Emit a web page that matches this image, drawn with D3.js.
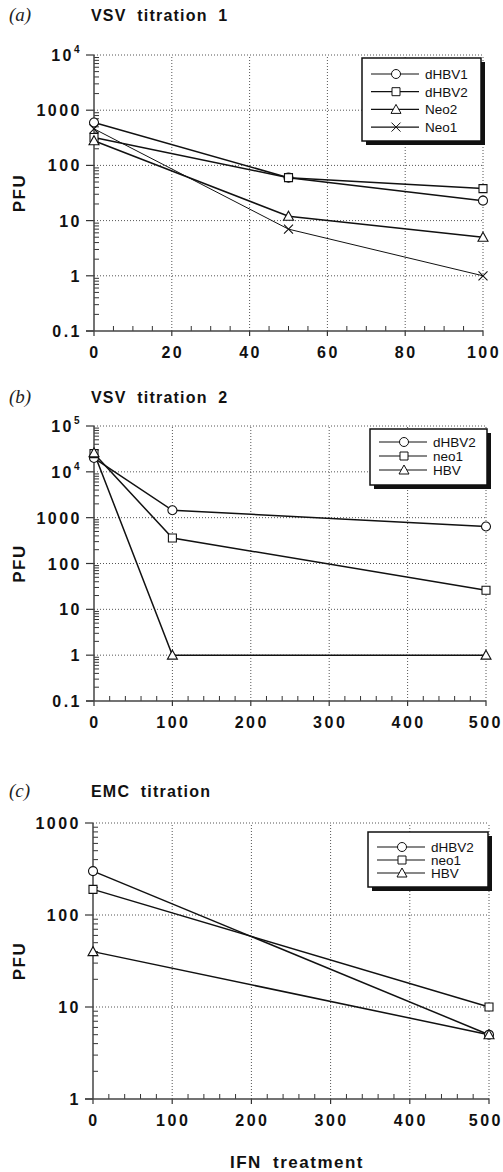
<!DOCTYPE html>
<html>
<head>
<meta charset="utf-8">
<script src="https://cdn.jsdelivr.net/npm/d3@7"></script>
<style>
  body { margin: 0; background: #fff; }
  svg { display: block; }
  .tick-label { font-family: "Liberation Sans", Helvetica, Arial, sans-serif; font-weight: bold; font-size: 16px; letter-spacing: 2.5px; fill: #111; }
  .title { font-family: "Liberation Sans", Helvetica, Arial, sans-serif; font-weight: bold; font-size: 16px; letter-spacing: 1.2px; word-spacing: 5px; fill: #111; }
  .panel-tag { font-family: "Liberation Serif", "Times New Roman", serif; font-style: italic; font-size: 19px; fill: #222; }
  .axis-title { font-family: "Liberation Sans", Helvetica, Arial, sans-serif; font-weight: bold; font-size: 17px; letter-spacing: 1.5px; word-spacing: 5px; fill: #111; }
  .legend-text { font-family: "Liberation Sans", Helvetica, Arial, sans-serif; font-size: 13.5px; fill: #111; }
</style>
</head>
<body>
<svg width="503" height="1172"></svg>
<script>
// ---- data ----
var doseA = [0, 50, 100];
var dhbv1A = [600, 60, 23];
var dhbv2A = [320, 60, 38];
var neo2A = [280, 12, 5];
var neo1A = [460, 7, 1];
var namesA = ["dHBV1", "dHBV2", "Neo2", "Neo1"];

var doseB = [0, 100, 500];
var dhbv2B = [20000, 1450, 640];
var neo1B = [25000, 360, 26];
var hbvB = [26000, 1, 1];
var namesB = ["dHBV2", "neo1", "HBV"];

var doseC = [0, 500];
var dhbv2C = [300, 5];
var neo1C = [190, 10];
var hbvC = [40, 5];
var namesC = ["dHBV2", "neo1", "HBV"];

var xTicksA = [0, 20, 40, 60, 80, 100];
var xTicksB = [0, 100, 200, 300, 400, 500];
var xTicksC = [0, 100, 200, 300, 400, 500];
var yTicksA = [0.1, 1, 10, 100, 1000, 10000];
var yTicksB = [0.1, 1, 10, 100, 1000, 10000, 100000];
var yTicksC = [1, 10, 100, 1000];
var yLabelsA = ["0.1", "1", "10", "100", "1000", "10^4"];
var yLabelsB = ["0.1", "1", "10", "100", "1000", "10^4", "10^5"];
var yLabelsC = ["1", "10", "100", "1000"];

var svg = d3.select("svg"),
    W = +svg.attr("width");

function markerPath(type) {
    var p = d3.path();
    if (type === "circle") {
        p.moveTo(4.5, 0);
        p.arc(0, 0, 4.5, 0, 2 * Math.PI);
    } else if (type === "square") {
        p.rect(-4, -4, 8, 8);
    } else if (type === "triangle") {
        p.moveTo(0, -5);
        p.lineTo(5, 4);
        p.lineTo(-5, 4);
        p.closePath();
    } else {
        p.moveTo(-4.5, -4.5); p.lineTo(4.5, 4.5);
        p.moveTo(4.5, -4.5); p.lineTo(-4.5, 4.5);
    }
    return p.toString();
}

function drawPanel(cfg) {
    var x = d3.scaleLinear().domain(d3.extent(cfg.xTicks)).range(cfg.xRange);
    var y = d3.scaleLog().domain(d3.extent(cfg.yTicks)).range(cfg.yRange);
    var g = svg.append("g");
    var x0 = cfg.xRange[0], x1 = cfg.xRange[1], y0 = cfg.yRange[0], y1 = cfg.yRange[1];

    // dotted grid
    g.selectAll(".vgrid").data(cfg.xTicks.slice(1)).enter().append("line")
        .attr("x1", function(d) { return x(d); }).attr("x2", function(d) { return x(d); })
        .attr("y1", y0).attr("y2", y1)
        .attr("stroke", "#555").attr("stroke-width", 1).attr("stroke-dasharray", "1,2");
    g.selectAll(".hgrid").data(cfg.yTicks.slice(1)).enter().append("line")
        .attr("x1", x0).attr("x2", x1)
        .attr("y1", function(d) { return y(d); }).attr("y2", function(d) { return y(d); })
        .attr("stroke", "#555").attr("stroke-width", 1).attr("stroke-dasharray", "1,2");

    // y axis: major ticks outside, log minor ticks inside
    var minorY = [];
    cfg.yTicks.slice(0, -1).forEach(function(t) {
        for (var k = 2; k <= 9; k++) minorY.push(t * k);
    });
    g.selectAll(".yminor").data(minorY).enter().append("line")
        .attr("x1", x0).attr("x2", x0 + 5)
        .attr("y1", function(d) { return y(d); }).attr("y2", function(d) { return y(d); })
        .attr("stroke", "#333").attr("stroke-width", 1);
    g.selectAll(".ymajor").data(cfg.yTicks).enter().append("line")
        .attr("x1", x0 - 8).attr("x2", x0)
        .attr("y1", function(d) { return y(d); }).attr("y2", function(d) { return y(d); })
        .attr("stroke", "#333").attr("stroke-width", 1.2);
    g.append("line").attr("x1", x0).attr("x2", x0).attr("y1", y0).attr("y2", y1)
        .attr("stroke", "#444").attr("stroke-width", 1.5);

    var yl = g.selectAll(".ylab").data(cfg.yTicks).enter().append("text")
        .attr("class", "tick-label")
        .attr("x", x0 - 12)
        .attr("y", function(d) { return y(d) + 6; })
        .attr("text-anchor", "end");
    yl.each(function(d, i) {
        var s = cfg.yLabels[i], t = d3.select(this);
        if (s.indexOf("^") > 0) {
            var parts = s.split("^");
            t.append("tspan").text(parts[0]);
            t.append("tspan").attr("dy", -8).style("font-size", "10px").text(parts[1]);
        } else {
            t.text(s);
        }
    });

    // x axis: major ticks outside, minor ticks inside
    var minorX = d3.range(cfg.xTicks[0], cfg.xTicks[cfg.xTicks.length - 1], cfg.xMinor)
        .filter(function(v) { return cfg.xTicks.indexOf(v) < 0; });
    g.selectAll(".xminor").data(minorX).enter().append("line")
        .attr("x1", function(d) { return x(d); }).attr("x2", function(d) { return x(d); })
        .attr("y1", y0 - 5).attr("y2", y0)
        .attr("stroke", "#333").attr("stroke-width", 1);
    g.selectAll(".xmajor").data(cfg.xTicks).enter().append("line")
        .attr("x1", function(d) { return x(d); }).attr("x2", function(d) { return x(d); })
        .attr("y1", y0).attr("y2", y0 + 5)
        .attr("stroke", "#333").attr("stroke-width", 1.2);
    g.append("line").attr("x1", x0 - 8).attr("x2", x1).attr("y1", y0).attr("y2", y0)
        .attr("stroke", "#444").attr("stroke-width", 1.5);
    g.selectAll(".xlab").data(cfg.xTicks).enter().append("text")
        .attr("class", "tick-label")
        .attr("y", y0 + 27)
        .attr("text-anchor", "middle")
        .text(function(d) { return d; })
        .attr("x", function(d) {
            // keep the last label inside the page edge
            var half = this.getComputedTextLength() / 2;
            return Math.min(x(d) + 1, W - half);
        });

    // series
    var line = d3.line().x(function(d) { return x(d[0]); }).y(function(d) { return y(d[1]); });
    cfg.series.forEach(function(s) {
        var pts = cfg.dose.map(function(d, i) { return [d, s.values[i]]; });
        g.append("path").attr("d", line(pts))
            .attr("fill", "none").attr("stroke", "#111").attr("stroke-width", s.width || 1.5);
    });
    cfg.series.forEach(function(s) {
        var pts = cfg.dose.map(function(d, i) { return [d, s.values[i]]; });
        g.selectAll(null).data(pts).enter().append("path")
            .attr("transform", function(d) { return "translate(" + x(d[0]) + "," + y(d[1]) + ")"; })
            .attr("d", markerPath(s.marker))
            .attr("fill", "#fff").attr("stroke", "#111").attr("stroke-width", 1.1);
    });

    // legend with drop shadow
    var L = cfg.legend;
    var lg = g.append("g");
    lg.append("rect").attr("x", L.x + 4).attr("y", L.y + 4).attr("width", L.w).attr("height", L.h).attr("fill", "#111");
    lg.append("rect").attr("x", L.x).attr("y", L.y).attr("width", L.w).attr("height", L.h)
        .attr("fill", "#fff").attr("stroke", "#111").attr("stroke-width", 1.5);
    cfg.series.forEach(function(s, i) {
        var yy = L.y + L.first + i * L.step;
        lg.append("line").attr("x1", L.x + 9).attr("x2", L.x + 57).attr("y1", yy).attr("y2", yy)
            .attr("stroke", "#111").attr("stroke-width", 1.2);
        lg.append("path").attr("transform", "translate(" + (L.x + 34) + "," + yy + ")")
            .attr("d", markerPath(s.marker))
            .attr("fill", "#fff").attr("stroke", "#111").attr("stroke-width", 1);
        lg.append("text").attr("class", "legend-text")
            .attr("x", L.x + 63).attr("y", yy + 5).text(s.name);
    });

    // titles
    svg.append("text").attr("class", "panel-tag").attr("x", 9).attr("y", cfg.titleY).text(cfg.tag);
    svg.append("text").attr("class", "title").attr("x", 91).attr("y", cfg.titleY).text(cfg.title);
    svg.append("text").attr("class", "axis-title")
        .attr("transform", "translate(25," + ((y0 + y1) / 2) + ") rotate(-90)")
        .attr("text-anchor", "middle").text("PFU");
}

drawPanel({
    tag: "(a)", title: "VSV titration 1", titleY: 21,
    xRange: [94, 483], yRange: [331, 55],
    xTicks: xTicksA, xMinor: 5, yTicks: yTicksA, yLabels: yLabelsA,
    dose: doseA,
    series: [
        { name: namesA[0], values: dhbv1A, marker: "circle" },
        { name: namesA[1], values: dhbv2A, marker: "square" },
        { name: namesA[2], values: neo2A, marker: "triangle" },
        { name: namesA[3], values: neo1A, marker: "cross", width: 1 }
    ],
    legend: { x: 362, y: 58, w: 119, h: 83, first: 16, step: 17.7 }
});

drawPanel({
    tag: "(b)", title: "VSV titration 2", titleY: 403,
    xRange: [94, 486], yRange: [701, 426],
    xTicks: xTicksB, xMinor: 20, yTicks: yTicksB, yLabels: yLabelsB,
    dose: doseB,
    series: [
        { name: namesB[0], values: dhbv2B, marker: "circle" },
        { name: namesB[1], values: neo1B, marker: "square" },
        { name: namesB[2], values: hbvB, marker: "triangle" }
    ],
    legend: { x: 370, y: 429, w: 117, h: 56, first: 13, step: 14 }
});

drawPanel({
    tag: "(c)", title: "EMC titration", titleY: 797,
    xRange: [93, 489], yRange: [1099, 823],
    xTicks: xTicksC, xMinor: 20, yTicks: yTicksC, yLabels: yLabelsC,
    dose: doseC,
    series: [
        { name: namesC[0], values: dhbv2C, marker: "circle" },
        { name: namesC[1], values: neo1C, marker: "square" },
        { name: namesC[2], values: hbvC, marker: "triangle" }
    ],
    legend: { x: 368, y: 832, w: 120, h: 55, first: 15, step: 13 }
});

svg.append("text").attr("class", "axis-title")
    .attr("x", 297).attr("y", 1168).attr("text-anchor", "middle")
    .text("IFN treatment");
</script>
</body>
</html>
